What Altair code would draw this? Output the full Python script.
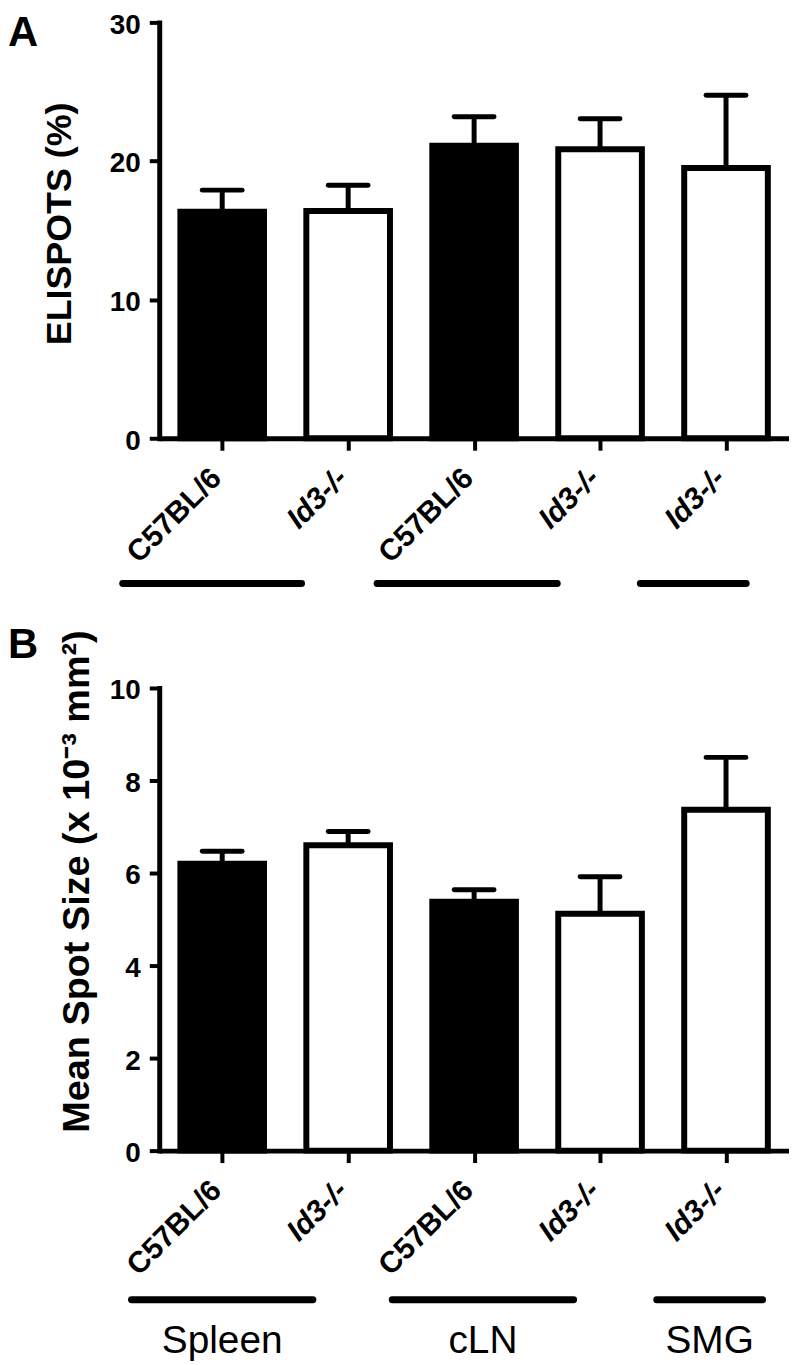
import altair as alt
import pandas as pd

# ---------------- data ----------------
genotypes = ["C57BL/6", "Id3-/-", "C57BL/6", "Id3-/-", "Id3-/-"]
tissues = ["Spleen", "Spleen", "cLN", "cLN", "SMG"]

elispot_mean = [16.35, 16.4, 21.1, 20.85, 19.5]
elispot_upper = [17.9, 18.25, 23.2, 23.05, 24.75]

spot_mean = [6.2, 6.6, 5.38, 5.12, 7.37]
spot_upper = [6.47, 6.9, 5.64, 5.92, 8.5]

group_names = ["Spleen", "cLN", "SMG"]
groupA_start = [-0.79, 1.23, 3.32]
groupA_end = [0.63, 2.66, 4.16]
groupB_start = [-0.72, 1.35, 3.45]
groupB_end = [0.72, 2.79, 4.29]

# ---------------- styling ----------------
FONT = "Liberation Sans, Arial, Helvetica, sans-serif"
WIDTH = 633
BAR_HALF = 0.332
CAP_HALF = 0.158


def make_panel(mean, upper, g_start, g_end, y_max, y_ticks, y_title, height,
               letter, letter_y, title_x, title_y, title_size, line_dy, text_dy=None):
    n = len(genotypes)
    df = pd.DataFrame({"idx": list(range(n)), "genotype": genotypes,
                       "tissue": tissues, "mean": mean, "upper": upper})
    gdf = pd.DataFrame({"group": group_names, "start": g_start, "end": g_end})

    xscale = alt.Scale(domain=[-0.5, n - 0.5], nice=False, zero=False)
    yscale = alt.Scale(domain=[0, y_max], nice=False, zero=True)

    label_list = "[" + ",".join("'%s'" % g for g in genotypes) + "]"
    italic_idx = [i for i, g in enumerate(genotypes) if g.startswith("Id3")]

    x_axis = alt.Axis(
        values=list(range(n)), labelExpr=f"{label_list}[datum.value]",
        title=None, grid=False, labelAngle=315, labelAlign="right",
        labelBaseline="middle", labelPadding=23, labelOffset=-6, labelFontSize=30,
        labelFont=FONT, labelFontWeight="bold", labelColor="black",
        labelFontStyle={"condition": {"test": f"indexof({italic_idx}, datum.value) >= 0",
                                      "value": "italic"}, "value": "normal"},
        labelOverlap=False, labelFlush=False, tickSize=12, tickWidth=4,
        tickColor="black", domainColor="black", domainWidth=5)

    y_axis = alt.Axis(
        values=y_ticks, title=y_title, grid=False, labelFontSize=28,
        labelFont=FONT, labelFontWeight="bold", labelColor="black",
        labelPadding=9, labelOffset=3, tickSize=10, tickWidth=4, tickColor="black",
        domainColor="black", domainWidth=5, domainCap="square",
        titleFont=FONT, titleFontSize=title_size, titleFontWeight="bold",
        titleColor="black", titleX=title_x, titleY=title_y, titleAngle=270,
        titleAlign="center", titleBaseline="middle")

    bars = alt.Chart(df).transform_calculate(
        lo=f"datum.idx - {BAR_HALF}", hi=f"datum.idx + {BAR_HALF}"
    ).mark_rect(stroke="black", strokeWidth=6).encode(
        x=alt.X("lo:Q", scale=xscale, axis=x_axis),
        x2="hi:Q",
        y=alt.Y("mean:Q", scale=yscale, axis=y_axis),
        y2=alt.datum(0),
        fill=alt.Fill("genotype:N",
                      scale=alt.Scale(domain=["C57BL/6", "Id3-/-"], range=["black", "white"]),
                      legend=None),
    )

    stems = alt.Chart(df).mark_rule(color="black", strokeWidth=5).encode(
        x=alt.X("idx:Q", scale=xscale, axis=x_axis),
        y=alt.Y("mean:Q", scale=yscale, axis=y_axis),
        y2="upper:Q",
    )

    caps = alt.Chart(df).transform_calculate(
        clo=f"datum.idx - {CAP_HALF}", chi=f"datum.idx + {CAP_HALF}"
    ).mark_rule(color="black", strokeWidth=5, strokeCap="round").encode(
        x=alt.X("clo:Q", scale=xscale, axis=x_axis),
        x2="chi:Q",
        y=alt.Y("upper:Q", scale=yscale, axis=y_axis),
    )

    glines = alt.Chart(gdf).mark_rule(color="black", strokeWidth=7, strokeCap="round").encode(
        x=alt.X("start:Q", scale=xscale, axis=x_axis),
        x2="end:Q",
        y=alt.value(height + line_dy),
    )

    ldf = pd.DataFrame({"letter": [letter]})
    ltext = alt.Chart(ldf).mark_text(
        font=FONT, fontSize=42, fontWeight="bold", align="left",
        baseline="alphabetic", color="black"
    ).encode(x=alt.value(-152), y=alt.value(letter_y), text="letter:N")

    layers = [bars, stems, caps, glines, ltext]
    if text_dy is not None:
        gtext = alt.Chart(gdf).transform_calculate(
            mid="(datum.start + datum.end) / 2"
        ).mark_text(font=FONT, fontSize=39, align="center", baseline="middle",
                    color="black").encode(
            x=alt.X("mid:Q", scale=xscale, axis=x_axis),
            y=alt.value(height + text_dy),
            text="group:N",
        )
        layers.append(gtext)

    return alt.layer(*layers).properties(width=WIDTH, height=height)


HA = 418
HB = 465
panel_a = make_panel(elispot_mean, elispot_upper, groupA_start, groupA_end,
                     30, [0, 10, 20, 30], "ELISPOTS (%)", HA,
                     "A", 24, -100, 202, 36, 146)
panel_b = make_panel(spot_mean, spot_upper, groupB_start, groupB_end,
                     10, [0, 2, 4, 6, 8, 10], "Mean Spot Size (x 10\u207b\u00b3 mm\u00b2)", HB,
                     "B", -30, -82, 194, 38, 150, 191)

chart = alt.vconcat(panel_a, panel_b, spacing=37).properties(
    padding={"left": 0, "top": 0, "right": 0, "bottom": 0}
).configure_view(stroke=None)

chart.save("out.html", embed_options={"renderer": "svg", "actions": False})
